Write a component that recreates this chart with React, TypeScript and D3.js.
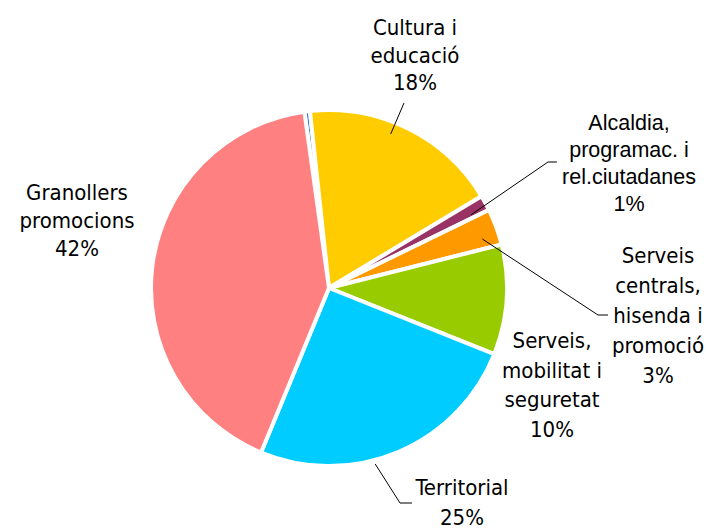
import React from 'react';
import * as d3 from 'd3';

// slice data, clockwise from the top
const names = [
  '',
  'Cultura i educació',
  'Alcaldia, programac. i rel.ciutadanes',
  'Serveis centrals, hisenda i promoció',
  'Serveis, mobilitat i seguretat',
  'Territorial',
  'Granollers promocions',
];
const values = [0.5, 18.1, 1.4, 3.3, 10.0, 25.2, 41.6];
const pctLabels = ['', '18%', '1%', '3%', '10%', '25%', '42%'];
const labelLines = [
  [],
  ['Cultura i', 'educació'],
  ['Alcaldia,', 'programac. i', 'rel.ciutadanes'],
  ['Serveis', 'centrals,', 'hisenda i', 'promoció'],
  ['Serveis,', 'mobilitat i', 'seguretat'],
  ['Territorial'],
  ['Granollers', 'promocions'],
];
const colors = ['#3a78d8', '#ffcc00', '#993366', '#ff9900', '#99cc00', '#00ccff', '#ff8080'];

const W = 708;
const H = 528;
const cx = 329;
const cy = 288;
const R = 178;

const labelFont = "'DejaVu Sans Condensed', 'Liberation Sans', sans-serif";

// label layout: text centre x, first baseline, line height, font, leader (t within slice, radius, elbow, end)
const layout: Record<number, any> = {
  1: { x: 415, y: 35, lh: 27.5, fs: 22, font: labelFont, leader: { t: 0.43, r: 166, pts: [[404, 103]] } },
  2: { x: 629, y: 130, lh: 27, fs: 21.5, font: "'Liberation Sans', Arial, sans-serif", leader: { t: 0.75, r: 160, pts: [[548, 162], [557, 162]] } },
  3: { x: 658, y: 263, lh: 30, fs: 22, font: labelFont, leader: { t: 0.7, r: 161, pts: [[598, 315], [608, 315]] } },
  4: { x: 552, y: 348, lh: 29.5, fs: 22, font: labelFont },
  5: { x: 462, y: 495, lh: 30, fs: 22, font: labelFont, leader: { t: 0.59, r: 182, pts: [[400, 503], [412, 503]] } },
  6: { x: 77, y: 200, lh: 28, fs: 22, font: labelFont },
};

export default function App() {
  const total = d3.sum(values);
  const start = ((-6.15 - (values[0] / total) * 360) * Math.PI) / 180;
  const pie = d3
    .pie<number>()
    .sort(null)
    .value(d => d)
    .startAngle(start)
    .endAngle(start + Math.PI * 2);
  const arcs = pie(values);
  const arc = d3.arc<d3.PieArcDatum<number>>().innerRadius(0).outerRadius(R);

  const polar = (a: number, r: number): [number, number] => [cx + r * Math.sin(a), cy - r * Math.cos(a)];

  return (
    <svg width={W} height={H} style={{ position: 'absolute', left: 0, top: 0, background: '#fff' }}>
      <g transform={`translate(${cx},${cy})`}>
        {arcs.map((a, i) => (
          <path key={i} d={arc(a) || ''} fill={colors[i]} stroke="#fff" strokeWidth={4} strokeLinejoin="round" />
        ))}
      </g>
      {arcs.map((a, i) => {
        const L = layout[i];
        if (!L) return null;
        let leader = null;
        if (L.leader) {
          const ang = a.startAngle + (a.endAngle - a.startAngle) * L.leader.t;
          const p0 = polar(ang, L.leader.r);
          const pts = [p0, ...L.leader.pts];
          leader = (
            <path
              d={d3.line()(pts as [number, number][]) || ''}
              fill="none"
              stroke="#000"
              strokeWidth={1}
            />
          );
        }
        const lines = [...labelLines[i], pctLabels[i]];
        return (
          <g key={'l' + i}>
            {leader}
            <text x={L.x} y={L.y} textAnchor="middle" fontFamily={L.font} fontSize={L.fs} fill="#000">
              {lines.map((t, j) => (
                <tspan key={j} x={L.x} dy={j === 0 ? 0 : L.lh}>
                  {t}
                </tspan>
              ))}
            </text>
          </g>
        );
      })}
    </svg>
  );
}
